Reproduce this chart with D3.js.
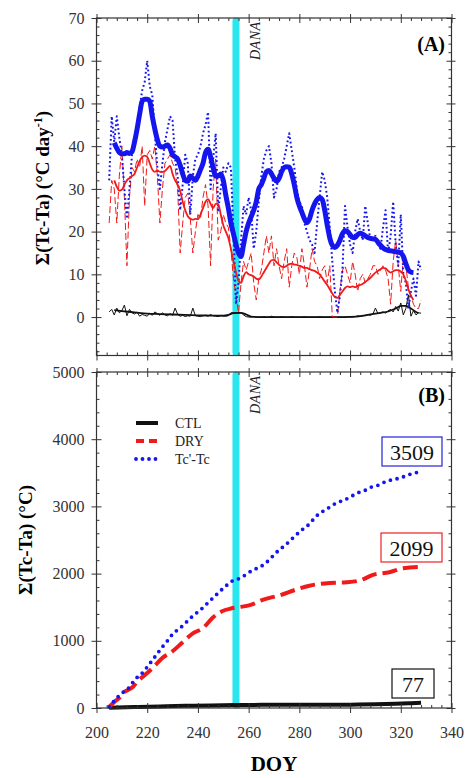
<!DOCTYPE html>
<html>
<head>
<meta charset="utf-8">
<script src="https://cdn.jsdelivr.net/npm/d3@7"></script>
<style>
  body { margin: 0; background: #fff; }
  text { font-family: "Liberation Serif", serif; }
</style>
</head>
<body>
<div id="chart"></div>
<script>
// ---- data ----
// panel A: daily values (DOY 205..328)
var rawStart = 205;
var tcRaw = [32,47,41,47,42,38,30,23,30,38,
  41,45,49,53,55,60,54,52,43,35,
  30,36,41,44,47,46,37,33,25,31,
  38,36,24,33,37,38,40,43,45,48,
  30,37,43,25,30,35,34,36,35,20,
  3,8,18,26,24,28,25,16,20,27,
  33,37,39,40,36,28,30,34,35,37,
  40,43,39,35,30,27,26,22,20,18,
  17,15,22,28,34,32,28,21,13,6,
  1,5,11,26,21,17,15,20,23,20,
  18,26,22,18,19,19,17,16,21,25,
  15,19,27,17,12,24,10,8,2,6,
  9,5,13,11];
var dryRaw = [22,32,30,22,33,40,28,12,28,35,
  34,37,35,40,26,38,39,37,40,33,
  22,30,36,37,38,36,35,30,15,22,
  28,29,23,15,20,24,23,28,31,26,
  12,30,37,18,20,24,22,21,16,9,
  5,1,8,13,11,13,15,8,4,9,
  11,15,19,15,19,12,16,12,9,13,
  16,7,12,15,14,10,16,12,7,11,
  16,13,12,9,11,12,8,12,0,0,
  0,6,11,12,10,8,13,10,6,9,
  10,8,9,10,12,12,10,11,12,11,
  9,3,13,18,12,6,14,12,7,5,
  3,2,2,4];
var ctlRaw = [1.2,1.8,0.5,2.1,1.0,1.5,2.8,0.3,1.8,1.0,
  0.7,1.2,0.2,0.6,0.4,0.2,0.9,0.4,1.2,0.8,
  0.4,1.0,0.5,0.3,0.8,0.4,2.1,0.6,0.2,0.4,
  0.1,0.3,0.2,2.1,0.3,0.2,0.1,0.3,0.4,0.2,
  0.6,0.3,0.2,0.1,0.4,0.3,0.2,0.3,1.0,1.0,
  1.0,1.0,1.0,0.5,0.1,0.0,0.0,0.1,0.0,0.0,
  0.0,0.1,0.0,0.0,0.2,0.0,0.0,0.0,0.1,0.0,
  0.0,0.0,0.1,0.0,0.0,0.0,0.0,0.1,0.0,0.0,
  0.0,0.0,0.0,0.1,0.0,0.0,0.0,0.0,0.0,0.1,
  0.0,0.0,0.0,0.0,0.1,0.0,0.0,0.1,0.3,0.2,
  0.4,0.3,0.6,0.4,0.7,2.1,0.8,1.0,1.2,0.9,
  1.5,1.8,1.2,2.5,1.4,3.3,0.5,2.0,5.2,0.2,
  1.5,0.5,1.0,0.9];

// panel A: smoothed values (DOY 207..325)
var smoothStart = 207;
var tcSmooth = [40.8,39.5,38.5,38.2,38.2,38.5,38.3,38.7,
  41,44,47.5,50.5,51,51,50.5,47,44,41.5,
  40,39.8,40,40.3,39.5,38,37.5,37,35.5,33.5,
  32,31.8,33,32.5,32,33,34.5,36,38.5,39.3,
  37.5,35,33,33,33.5,32,28.5,25.5,22,19.5,
  17,15,14.2,17,20,22,23.5,25,27,30,
  31,32.5,34,34.3,33.5,32.5,31.8,32.5,34,35,
  35.2,35.1,33.5,31,28,26,24.5,23,22.1,23,
  25,26.5,27.5,28,27.5,25,21.5,18.5,16.8,16.3,
  16.8,18,19.5,20.2,20,19.3,18.6,18.6,19.3,19.6,
  19.4,19,18.6,18.4,18.3,18.2,17.5,16.8,16.2,15.8,
  15.6,15.5,15.4,15.3,15.2,15,14.2,12.5,11,10.5,
  10.4];
var drySmooth = [32,30.5,29.6,29.8,31,32,32.5,33,
  33.5,35,36.5,37.5,37.8,37.5,36,34.5,34,34.3,
  34,34,34.2,34.8,35.4,33.5,32,31,29.5,27,
  25,23.6,23,22.8,23,22.9,24,25.5,27,27.6,
  26.5,25.5,26.5,26.5,24,21.5,20,18.5,16,13,
  10.5,8.5,8,9.5,10.5,10,9.8,9.5,9,8.8,
  9.5,10.5,11.5,12.5,13.3,13.4,12.8,12.2,11.8,11.7,
  12,12.4,12.5,12.3,12.2,12,11.8,11.5,11.5,11.2,
  11,10.8,10.4,10,9.2,8.3,7.5,6.5,5.5,4.7,
  4.5,5.2,6,6.8,7.2,7,7.2,7,7.3,7.5,
  7.8,8.2,8.7,9.2,9.8,10.4,10.8,11.2,11.5,11.4,
  10.8,10.4,10.7,11,11,10.6,10,8.5,6.5,5,
  4];
var ctlSmooth = [[207,1.6],[210,1.4],[215,1.1],[220,0.8],[225,0.7],[230,0.6],[235,0.5],
  [240,0.4],[245,0.35],[250,0.3],[252,0.5],[254,0.9],[257,1.0],[259,0.6],[261,0.1],
  [265,0],[280,0],[295,0],[300,0.05],[305,0.3],[308,0.6],[312,1.0],[315,1.3],
  [318,2.0],[320,2.6],[322,2.6],[324,2.0],[326,1.2],[327,0.9]];

// panel B: cumulative sums [DOY, value]
var tcCum = [[205,15],[208,150],[210.5,233],[213,310],[215,417],[218,520],[220,610],[222,710],
  [224,810],[226,910],[228,1000],[230,1100],[233,1190],[235.5,1280],[238,1370],[241,1460],
  [243.5,1550],[246,1640],[248.5,1730],[251,1815],[253.5,1890],[256.5,1930],[261.5,2050],
  [265,2110],[268,2200],[270.5,2300],[273,2380],[275.5,2460],[278,2550],[281,2650],[284,2740],
  [286.5,2850],[289,2920],[292,2990],[294.5,3050],[298,3100],[300.5,3150],[303,3200],
  [306,3240],[308.5,3290],[311.5,3320],[314,3370],[317,3400],[319.5,3420],[323,3470],
  [325.5,3500],[328,3509]];
var dryCum = [[205,15],[207,90],[209,150],[211,240],[212.5,270],[214.5,320],[216,390],[220,520],
  [222.5,610],[226.5,760],[229.5,830],[234,980],[238,1110],[242,1190],[246,1350],[249.5,1440],
  [253,1480],[256,1500],[260.5,1530],[265.5,1610],[272.5,1680],[278.5,1760],[284,1820],
  [292,1860],[298.5,1870],[304,1900],[309,1980],[315.5,2020],[321,2080],[328,2099]];
var ctlCum = [[205,3],[215,14],[225,24],[235,32],[245,38],[255,44],[265,47],[280,48],
  [300,50],[310,54],[318,62],[324,71],[328,77]];

var danaDoy = 255;
var totals = [{label: "3509", color: "#2222dd"}, {label: "2099", color: "#ee2222"}, {label: "77", color: "#111"}];
var legendNames = ["CTL", "DRY", "Tc'-Tc"];

var xMajor = [200, 220, 240, 260, 280, 300, 320, 340];
var yMajorA = [0, 10, 20, 30, 40, 50, 60, 70];
var yMajorB = [0, 1000, 2000, 3000, 4000, 5000];

// ---- setup ----
var W = 466, H = 778;
var blue = "#1515ee", red = "#f01a1a", cyan = "#2ae6ee", ink = "#333";

var svg = d3.select("#chart").append("svg").attr("width", W).attr("height", H);

var x = d3.scaleLinear().domain([200, 340]).range([96.5, 451.5]);
var yA = d3.scaleLinear().domain([-9, 70]).range([355.5, 18]);
var yB = d3.scaleLinear().domain([0, 5000]).range([708, 372]);

var xMinor = d3.range(200, 341, 4).filter(function(d){ return d % 20 != 0; });
var yMinorA = d3.range(-8, 71, 2).filter(function(d){ return d % 10 != 0; });
var yMinorB = d3.range(0, 5001, 200).filter(function(d){ return d % 1000 != 0; });

function addAxis(axis, tx, ty) {
  var g = svg.append("g").attr("transform", "translate(" + tx + "," + ty + ")").call(axis);
  g.select(".domain").remove();
  g.attr("font-size", 16).attr("font-family", "Liberation Serif, serif");
  g.selectAll(".tick line").attr("stroke", ink).attr("stroke-width", 1);
  g.selectAll(".tick text").attr("fill", "#333");
  return g;
}

function frame(y, yMajor, yMinor, xLabels) {
  var x0 = x.range()[0], x1 = x.range()[1];
  var yb = y.range()[0], yt = y.range()[1];
  // left
  addAxis(d3.axisLeft(y).tickValues(yMajor).tickSize(5).tickPadding(7).tickFormat(d3.format("d")), x0, 0);
  addAxis(d3.axisRight(y).tickValues(yMajor).tickSize(5).tickFormat(""), x0, 0);
  addAxis(d3.axisRight(y).tickValues(yMinor).tickSize(3).tickFormat(""), x0, 0);
  // right
  addAxis(d3.axisRight(y).tickValues(yMajor).tickSize(4).tickFormat(""), x1, 0);
  addAxis(d3.axisLeft(y).tickValues(yMajor).tickSize(5).tickFormat(""), x1, 0);
  addAxis(d3.axisLeft(y).tickValues(yMinor).tickSize(3).tickFormat(""), x1, 0);
  // bottom
  addAxis(d3.axisBottom(x).tickValues(xMajor).tickSize(5).tickPadding(14)
    .tickFormat(xLabels ? d3.format("d") : ""), 0, yb);
  addAxis(d3.axisTop(x).tickValues(xMajor).tickSize(5).tickFormat(""), 0, yb);
  addAxis(d3.axisTop(x).tickValues(xMinor).tickSize(3).tickFormat(""), 0, yb);
  // top
  addAxis(d3.axisTop(x).tickValues(xMajor).tickSize(4).tickFormat(""), 0, yt);
  addAxis(d3.axisBottom(x).tickValues(xMajor).tickSize(5).tickFormat(""), 0, yt);
  addAxis(d3.axisBottom(x).tickValues(xMinor).tickSize(3).tickFormat(""), 0, yt);

  svg.append("rect").attr("x", x0).attr("y", yt).attr("width", x1 - x0).attr("height", yb - yt)
    .attr("fill", "none").attr("stroke", ink).attr("stroke-width", 1.2);
}

function dana(y) {
  svg.append("line")
    .attr("x1", x(danaDoy)).attr("x2", x(danaDoy))
    .attr("y1", y.range()[1] + 3).attr("y2", y.range()[0] - 3)
    .attr("stroke", cyan).attr("stroke-width", 7).attr("stroke-linecap", "round");
  svg.append("text")
    .attr("transform", "translate(" + (x(danaDoy) + 24) + "," + (y.range()[1] + 42) + ") rotate(-90)")
    .attr("font-size", 14).attr("font-style", "italic").attr("fill", "#222")
    .attr("letter-spacing", 0.5)
    .text("DANA");
}

function series(arr, start) {
  return arr.map(function(v, i){ return [start + i, v]; });
}

function path(data, y, color, width, dash, curve) {
  var line = d3.line().x(function(d){ return x(d[0]); }).y(function(d){ return y(d[1]); })
    .curve(curve || d3.curveLinear);
  svg.append("path").datum(data).attr("d", line)
    .attr("fill", "none").attr("stroke", color).attr("stroke-width", width)
    .attr("stroke-dasharray", dash || null)
    .attr("stroke-linejoin", "round")
    .attr("stroke-linecap", dash && dash.indexOf("0,") == 0 ? "round" : "butt");
}

// ---- panel A ----
dana(yA);
path(series(ctlRaw, rawStart), yA, "#111", 1);
path(ctlSmooth, yA, "#111", 1.8, null, d3.curveMonotoneX);
path(series(dryRaw, rawStart), yA, red, 1, "7,3");
path(series(tcRaw, rawStart), yA, blue, 2, "1.8,2.6");
path(series(drySmooth, smoothStart), yA, red, 1.8, null, d3.curveMonotoneX);
path(series(tcSmooth, smoothStart), yA, blue, 5, null, d3.curveMonotoneX);
frame(yA, yMajorA, yMinorA, false);

svg.append("text").attr("x", 445).attr("y", 51).attr("text-anchor", "end")
  .attr("font-size", 20).attr("font-weight", "bold").text("(A)");

var labA = svg.append("text").attr("transform", "translate(49,188) rotate(-90)")
  .attr("text-anchor", "middle").attr("font-size", 19).attr("font-weight", "bold");
labA.append("tspan").text("\u03A3(Tc-Ta) (\u00B0C day");
labA.append("tspan").attr("dy", -7).attr("font-size", 12).text("-1");
labA.append("tspan").attr("dy", 7).text(")");

// ---- panel B ----
dana(yB);
path(ctlCum, yB, "#111", 4, null, d3.curveMonotoneX);
path(dryCum, yB, red, 4, "15,6", d3.curveMonotoneX);
path(tcCum, yB, blue, 3.8, "0,6.8", d3.curveMonotoneX);
frame(yB, yMajorB, yMinorB, true);

svg.append("text").attr("x", 445).attr("y", 402).attr("text-anchor", "end")
  .attr("font-size", 20).attr("font-weight", "bold").text("(B)");

svg.append("text").attr("transform", "translate(32,540) rotate(-90)")
  .attr("text-anchor", "middle").attr("font-size", 19).attr("font-weight", "bold")
  .text("\u03A3(Tc-Ta) (\u00B0C)");

svg.append("text").attr("x", 274).attr("y", 771).attr("text-anchor", "middle")
  .attr("font-size", 21).attr("font-weight", "bold").text("DOY");

// legend
var legStyles = [
  {color: "#111", width: 4, dash: null},
  {color: red, width: 4, dash: "8,5"},
  {color: blue, width: 3.8, dash: "0,6.5"}
];
legendNames.forEach(function(name, i) {
  var ly = 423 + i * 18, st = legStyles[i];
  svg.append("line").attr("x1", 136).attr("x2", 158).attr("y1", ly).attr("y2", ly)
    .attr("stroke", st.color).attr("stroke-width", st.width)
    .attr("stroke-dasharray", st.dash)
    .attr("stroke-linecap", i == 2 ? "round" : "butt");
  svg.append("text").attr("x", 175).attr("y", ly + 5).attr("font-size", 14)
    .attr("fill", "#222").text(name);
});

// totals boxes
var boxes = [{x: 382, y: 437, w: 60}, {x: 381, y: 533, w: 61}, {x: 392, y: 669, w: 42}];
totals.forEach(function(t, i) {
  var b = boxes[i];
  svg.append("rect").attr("x", b.x).attr("y", b.y).attr("width", b.w).attr("height", 29)
    .attr("fill", "#fff").attr("stroke", t.color).attr("stroke-width", 1.2);
  svg.append("text").attr("x", b.x + b.w / 2).attr("y", b.y + 23).attr("text-anchor", "middle")
    .attr("font-size", 22).attr("fill", "#111").text(t.label);
});
</script>
</body>
</html>
